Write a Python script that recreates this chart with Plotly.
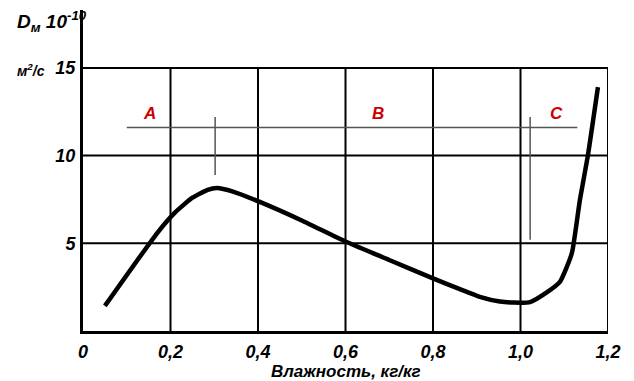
import plotly.graph_objects as go

# Data
moisture = [0.05, 0.17, 0.21, 0.25, 0.285, 0.306, 0.343, 0.40, 0.50,
            0.60, 0.70, 0.80, 0.86, 0.907, 0.953, 0.985, 1.022, 1.06,
            1.09, 1.105, 1.118, 1.136, 1.154, 1.177]
diffusivity = [1.43, 5.6, 6.75, 7.6, 8.05, 8.15, 7.95, 7.4, 6.3,
               5.1, 4.05, 3.0, 2.4, 1.95, 1.68, 1.62, 1.65, 2.2,
               2.8, 3.6, 4.5, 7.5, 10.0, 13.9]

x_ticks = [0, 0.2, 0.4, 0.6, 0.8, 1.0, 1.2]
x_tick_labels = ["0", "0,2", "0,4", "0,6", "0,8", "1,0", "1,2"]
y_ticks = [5, 10, 15]
y_tick_labels = ["5", "10", "15"]

zone_names = ["A", "B", "C"]
zone_label_x = [0.153, 0.674, 1.083]
zone_label_y = 12.4
zone_line_y = 11.6
zone_line_x = [0.10, 1.13]
zone_bounds_x = [0.302, 1.022]
zone_bounds_y0 = [8.9, 5.2]
zone_bounds_y1 = [12.2, 12.2]

FONT = "Liberation Sans Narrow, Liberation Sans, Arial, sans-serif"

fig = go.Figure()

shapes = []
for xv in x_ticks[1:]:
    shapes.append(dict(type="line", xref="x", yref="y", x0=xv, x1=xv, y0=0, y1=15,
                       line=dict(color="black", width=2)))
for yv in y_ticks:
    shapes.append(dict(type="line", xref="x", yref="y", x0=0, x1=1.2, y0=yv, y1=yv,
                       line=dict(color="black", width=2)))
shapes.append(dict(type="line", xref="x", yref="y", x0=zone_line_x[0], x1=zone_line_x[1],
                   y0=zone_line_y, y1=zone_line_y, line=dict(color="#555555", width=1.5)))
for xb, y0, y1 in zip(zone_bounds_x, zone_bounds_y0, zone_bounds_y1):
    shapes.append(dict(type="line", xref="x", yref="y", x0=xb, x1=xb, y0=y0, y1=y1,
                       line=dict(color="#555555", width=1.5)))

fig.add_trace(go.Scatter(x=moisture, y=diffusivity, mode="lines",
                         line=dict(color="black", width=4.5, shape="spline", smoothing=0.5),
                         showlegend=False, hoverinfo="skip"))

annotations = []
for name, xv in zip(zone_names, zone_label_x):
    annotations.append(dict(x=xv, y=zone_label_y, xref="x", yref="y", text=name,
                            showarrow=False, yanchor="middle",
                            font=dict(family=FONT, size=17, color="#cc0000", weight="bold", style="italic")))

annotations.append(dict(x=-0.1295, y=0.963, xref="paper", yref="paper", xanchor="left", yanchor="middle",
                        text="D<sub>м</sub> 10<sup>-10</sup>", showarrow=False,
                        font=dict(family=FONT, size=19, color="black", weight="bold", style="italic")))
annotations.append(dict(x=-0.1295, y=0.813, xref="paper", yref="paper", xanchor="left", yanchor="middle",
                        text="м<sup>2</sup>/с", showarrow=False,
                        font=dict(family=FONT, size=14, color="black", weight="bold", style="italic")))
annotations.append(dict(x=0.5, y=-0.126, xref="paper", yref="paper", xanchor="center", yanchor="middle",
                        text="Влажность, кг/кг", showarrow=False,
                        font=dict(family=FONT, size=17, color="black", weight="bold", style="italic")))

# page body has an 8px default margin, so the figure is 8px smaller and margins shifted
fig.update_layout(
    width=626, height=373,
    margin=dict(l=75, r=26, t=2, b=50),
    paper_bgcolor="white", plot_bgcolor="white",
    shapes=shapes, annotations=annotations,
    xaxis=dict(range=[0, 1.2], tickvals=x_ticks, ticktext=x_tick_labels,
               showgrid=False, zeroline=False, showline=True, linecolor="black", linewidth=3,
               ticks="outside", ticklen=2, tickcolor="rgba(0,0,0,0)",
               tickfont=dict(family=FONT, size=18, color="black", weight="bold", style="italic")),
    yaxis=dict(range=[0, 18.3], tickvals=y_ticks, ticktext=y_tick_labels,
               showgrid=False, zeroline=False, showline=True, linecolor="black", linewidth=3,
               ticks="outside", ticklen=1, tickcolor="rgba(0,0,0,0)",
               tickfont=dict(family=FONT, size=18, color="black", weight="bold", style="italic")),
)

fig.write_html("out.html")
